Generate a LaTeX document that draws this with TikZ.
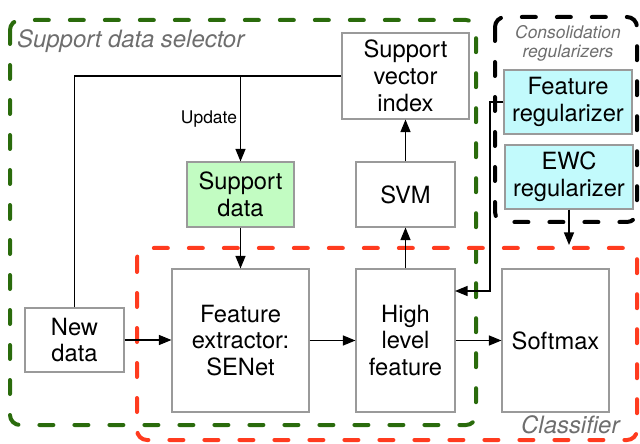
\documentclass[tikz,border=0pt]{standalone}
\usepackage{fontspec}
\setmainfont{TeX Gyre Heros}
\usetikzlibrary{arrows.meta}
\definecolor{grpgreen}{HTML}{2A6B0C}
\definecolor{grpred}{HTML}{FF3B1F}
\definecolor{lblgray}{HTML}{6E6E6E}
\definecolor{boxgray}{HTML}{9A9A9A}
\definecolor{sdfill}{HTML}{C2FCC2}
\definecolor{regfill}{HTML}{C2FAFC}
\tikzset{
  box/.style={draw=boxgray, line width=1.1bp, fill=white, align=center, inner sep=0pt,
    font=\fontsize{23.8}{27}\selectfont},
  grp/.style={line width=4bp, dash pattern=on 14bp off 21bp, line cap=round, rounded corners=10bp},
  grplabel/.style={text=lblgray, font=\itshape\fontsize{24}{27}\selectfont, inner sep=0pt},
  conn/.style={line width=1.1bp, draw=black},
  arr/.style={conn, -{Triangle[length=12.5bp,width=10bp]}},
}
\begin{document}
\begin{tikzpicture}[x=1bp,y=-1bp]
\useasboundingbox (0,0) rectangle (640,444);
% groups
\draw[grp, draw=grpgreen] (10,20) rectangle (476,425);
\draw[grp, draw=grpred] (137,248) rectangle (637,440);
\draw[grp, draw=black] (495,17) rectangle (637,222);
\node[grplabel, anchor=base west] (lsel) at (17,48) {Support data selector};
\node[grplabel, anchor=base west] (lcls) at (521,433) {Classifier};
\node[text=lblgray, font=\itshape\fontsize{17.5}{19.5}\selectfont, align=center, inner sep=0pt, anchor=base]
  (lcons) at (568,58) {Consolidation\\regularizers};
% nodes
\node[box, minimum width=99bp, minimum height=64bp] (newdata) at (74.5,340) {New\\data};
\node[box, minimum width=137bp, minimum height=143bp] (fe) at (240.5,340.5) {Feature\\extractor:\\SENet};
\node[box, minimum width=99bp, minimum height=143bp] (hlf) at (405.5,340.5) {High\\level\\feature};
\node[box, minimum width=107bp, minimum height=143bp] (soft) at (555.5,340.5) {Softmax};
\node[box, fill=sdfill, minimum width=107bp, minimum height=65bp] (sd) at (240.5,194.5) {Support\\data};
\node[box, minimum width=99bp, minimum height=65bp] (svm) at (405.5,194.5) {SVM};
\node[box, minimum width=127bp, minimum height=86bp] (svi) at (405.5,76) {Support\\vector\\index};
\node[box, fill=regfill, minimum width=128bp, minimum height=64bp] (freg) at (568,102) {Feature\\regularizer};
\node[box, fill=regfill, minimum width=128bp, minimum height=64bp] (ewc) at (569,177) {EWC\\regularizer};
% connectors
\coordinate (upd) at (sd.north |- svi.west);
\draw[conn] (newdata.north) |- (svi.west);
\draw[arr] (upd) -- node[left, inner sep=3bp, font=\fontsize{17.5}{19}\selectfont] (lupd) {Update} (sd.north);
\draw[arr] (sd) -- (fe);
\draw[arr] (newdata.east) -- (newdata.east -| fe.west);
\draw[arr] (fe) -- (hlf);
\draw[arr] (hlf) -- (soft);
\draw[arr] (hlf) -- (svm);
\draw[arr] (svm) -- (svi);
\coordinate (ft) at (490,102);
\coordinate (hin) at (455,291);
\draw[arr] (freg.west) -- (ft) |- (hin);
\coordinate (ewcend) at (569,245);
\draw[arr] (ewc.south) -- (ewcend);
\end{tikzpicture}
\end{document}
